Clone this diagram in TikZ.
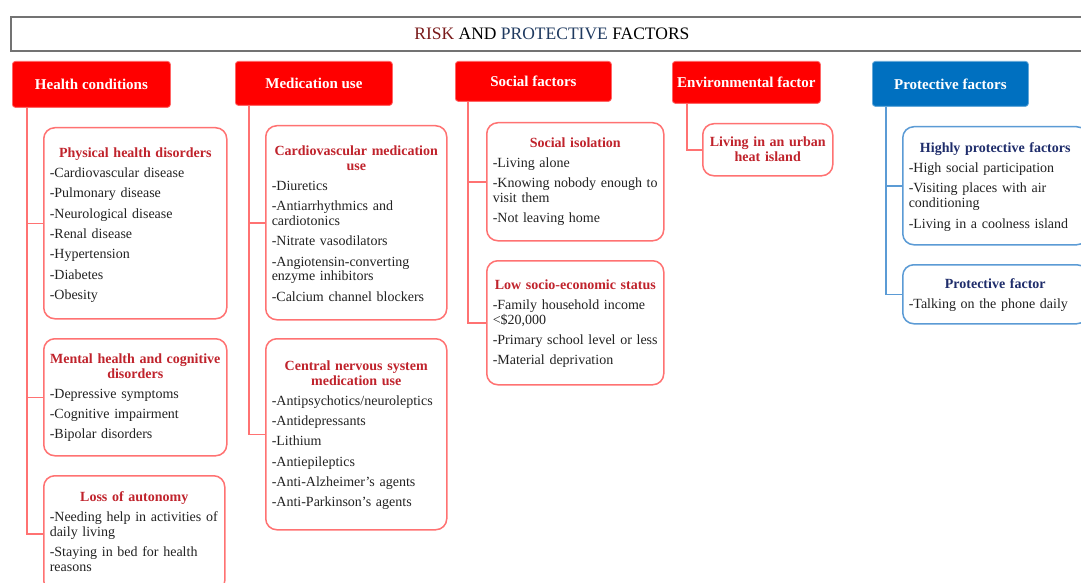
\documentclass[tikz,border=0pt]{standalone}
\usepackage{fontspec}
\setmainfont{Liberation Serif}
\definecolor{hdrred}{HTML}{FF0000}
\definecolor{hdrblue}{HTML}{0070C0}
\definecolor{boxred}{HTML}{FF7272}
\definecolor{boxblue}{HTML}{5B9BD5}
\definecolor{ttlred}{HTML}{C0232C}
\definecolor{ttlblue}{HTML}{1F2D6B}
\definecolor{riskc}{HTML}{7A1B1B}
\definecolor{protc}{HTML}{1F3A60}
\definecolor{itemc}{HTML}{222222}
\newcommand{\rtl}[1]{{\centering\bfseries\leavevmode\color{ttlred}#1\par}}
\newcommand{\btl}[1]{{\centering\bfseries\leavevmode\color{ttlblue}#1\par}}
\tikzset{
  hdr/.style={rectangle, rounded corners=3pt, anchor=north west, inner sep=0pt, text=white, font=\fontsize{15}{17}\selectfont\bfseries},
  redhdr/.style={hdr, fill=hdrred, draw=hdrred!60!white, line width=0.8pt},
  bluehdr/.style={hdr, fill=hdrblue, draw=hdrblue!60!white, line width=0.8pt},
  cbox/.style={rectangle, rounded corners=11pt, anchor=north west, inner sep=0pt, line width=1.5pt},
  redbox/.style={cbox, draw=boxred},
  bluebox/.style={cbox, draw=boxblue},
  ctext/.style={anchor=north, inner sep=0pt, align=left, text=itemc,
    font=\fontsize{14}{14.8}\selectfont,
    execute at begin node={\setlength{\parskip}{5.5pt}\setlength{\parindent}{0pt}}},
  redlink/.style={draw=boxred, line width=1.5pt},
  bluelink/.style={draw=boxblue, line width=1.5pt},
}
\begin{document}
\begin{tikzpicture}[x=1pt,y=-1pt]
\clip (0,0) rectangle (1081,583);
\fill[white] (0,0) rectangle (1081,583);

% title banner
\node[rectangle, draw=black!55, line width=1.8pt, anchor=north west, minimum width=1082pt, minimum height=34pt, inner sep=0pt,
  font=\fontsize{17.5}{20}\selectfont] (title) at (10,16)
  {\textcolor{riskc}{RISK} AND \textcolor{protc}{PROTECTIVE} FACTORS};

% headers
\node[redhdr, minimum width=158pt, minimum height=46pt] (hc) at (12,61) {Health conditions};
\node[redhdr, minimum width=157pt, minimum height=44pt] (mu) at (235,61) {Medication use};
\node[redhdr, minimum width=156pt, minimum height=40pt] (sf) at (455,61) {Social factors};
\node[redhdr, minimum width=148pt, minimum height=42pt] (ef) at (672,61) {Environmental factor};
\node[bluehdr, minimum width=156pt, minimum height=45pt] (pf) at (872,61) {Protective factors};

% child boxes
\node[redbox, minimum width=183pt, minimum height=191pt] (phys) at (43,127) {};
\node[redbox, minimum width=183pt, minimum height=117pt] (ment) at (43,338) {};
\node[redbox, minimum width=181pt, minimum height=116pt] (loss) at (43,475) {};
\node[redbox, minimum width=181pt, minimum height=194pt] (cvm) at (265,125) {};
\node[redbox, minimum width=181pt, minimum height=191pt] (cns) at (265,338) {};
\node[redbox, minimum width=177pt, minimum height=118pt] (iso) at (486,122) {};
\node[redbox, minimum width=177pt, minimum height=124pt] (ses) at (486,260) {};
\node[redbox, minimum width=130pt, minimum height=52pt] (urb) at (702,123) {};
\node[bluebox, minimum width=185pt, minimum height=118pt] (hpf) at (902,126) {};
\node[bluebox, minimum width=185pt, minimum height=59pt] (pfb) at (902,264) {};

% box texts
\node[ctext, text width=171pt] (physT) at ([yshift=-20.3pt]phys.north) {%
\rtl{Physical health disorders}
-Cardiovascular disease\par
-Pulmonary disease\par
-Neurological disease\par
-Renal disease\par
-Hypertension\par
-Diabetes\par
-Obesity};
\node[ctext, text width=171pt] (mentT) at ([yshift=-15.3pt]ment.north) {%
\rtl{Mental health and cognitive\\disorders}
-Depressive symptoms\par
-Cognitive impairment\par
-Bipolar disorders};
\node[ctext, text width=169pt] (lossT) at ([yshift=-16.3pt]loss.north) {%
\rtl{Loss of autonomy}
-Needing help in activities of\newline daily living\par
-Staying in bed for health\newline reasons};
\node[ctext, text width=169pt] (cvmT) at ([yshift=-20.3pt]cvm.north) {%
\rtl{Cardiovascular medication\\use}
-Diuretics\par
-Antiarrhythmics and\newline cardiotonics\par
-Nitrate vasodilators\par
-Angiotensin-converting\newline enzyme inhibitors\par
-Calcium channel blockers};
\node[ctext, text width=169pt] (cnsT) at ([yshift=-22.3pt]cns.north) {%
\rtl{Central nervous system\\medication use}
-Antipsychotics/neuroleptics\par
-Antidepressants\par
-Lithium\par
-Antiepileptics\par
-Anti-Alzheimer's agents\par
-Anti-Parkinson's agents};
\node[ctext, text width=165pt] (isoT) at ([yshift=-15.3pt]iso.north) {%
\rtl{Social isolation}
-Living alone\par
-Knowing nobody enough to\newline visit them\par
-Not leaving home};
\node[ctext, text width=165pt] (sesT) at ([yshift=-19.3pt]ses.north) {%
\rtl{Low socio-economic status}
-Family household income\newline <\$20,000\par
-Primary school level or less\par
-Material deprivation};
\node[ctext, text width=124pt] (urbT) at ([yshift=-13.3pt]urb.north) {%
\rtl{Living in an urban\\heat island}};
\node[ctext, text width=173pt] (hpfT) at ([yshift=-16.3pt]hpf.north) {%
\btl{Highly protective factors}
-High social participation\par
-Visiting places with air\newline conditioning\par
-Living in a coolness island};
\node[ctext, text width=173pt] (pfbT) at ([yshift=-14.3pt]pfb.north) {%
\btl{Protective factor}
-Talking on the phone daily};

% connectors
\coordinate (hcA) at ([xshift=15pt]hc.south west);
\coordinate (muA) at ([xshift=14pt]mu.south west);
\coordinate (sfA) at ([xshift=13pt]sf.south west);
\coordinate (efA) at ([xshift=15pt]ef.south west);
\coordinate (pfA) at ([xshift=14pt]pf.south west);
\draw[redlink] (hcA) |- (phys.west);
\draw[redlink] (hcA) |- (ment.west);
\draw[redlink] (hcA) |- (loss.west);
\draw[redlink] (muA) |- (cvm.west);
\draw[redlink] (muA) |- (cns.west);
\draw[redlink] (sfA) |- (iso.west);
\draw[redlink] (sfA) |- (ses.west);
\draw[redlink] (efA) |- (urb.west);
\draw[bluelink] (pfA) |- (hpf.west);
\draw[bluelink] (pfA) |- (pfb.west);
\end{tikzpicture}
\end{document}
